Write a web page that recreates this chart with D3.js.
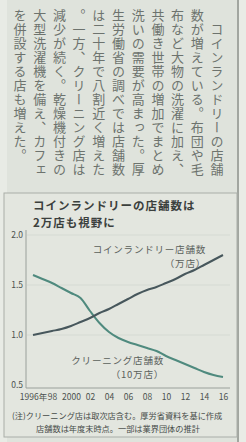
<!DOCTYPE html>
<html>
<head>
<meta charset="utf-8">
<title>コインランドリー</title>
<style>
body { margin: 0; background: #dfe3dc; }
text { font-family: "Noto Sans CJK JP", sans-serif; }
.article text { font-size: 13px; fill: #6d736e; writing-mode: vertical-rl; letter-spacing: 1px; }
.title { font-size: 11.5px; font-weight: bold; fill: #3b403d; letter-spacing: 1px; }
.axis text { font-size: 8.5px; fill: #4c524e; }
.axis path, .axis line { stroke: #9aa09b; }
.grid line { stroke: #cfd4cd; stroke-width: 0.6; }
.lbl { font-size: 9.5px; fill: #5a605b; letter-spacing: 0.8px; }
.note { font-size: 8.2px; fill: #464b48; }
</style>
</head>
<body>
<script src="https://cdn.jsdelivr.net/npm/d3@7"></script>
<div id="chart"></div>
<script>
var years = [1996, 1997, 1998, 1999, 2000, 2001, 2002, 2003, 2004, 2005, 2006,
             2007, 2008, 2009, 2010, 2011, 2012, 2013, 2014, 2015, 2016];
var coinStores = [1.00, 1.02, 1.04, 1.06, 1.09, 1.13, 1.17, 1.22, 1.26, 1.31, 1.36,
                  1.41, 1.45, 1.48, 1.52, 1.56, 1.61, 1.65, 1.70, 1.75, 1.80];
var cleaningStores = [1.60, 1.56, 1.52, 1.47, 1.42, 1.37, 1.24, 1.12, 1.03, 0.97, 0.93,
                      0.90, 0.87, 0.84, 0.79, 0.75, 0.71, 0.67, 0.63, 0.60, 0.58];
var yTicks = [0.5, 1.0, 1.5, 2.0];
var xTicks = [1996, 1998, 2000, 2002, 2004, 2006, 2008, 2010, 2012, 2014, 2016];
var xTickLabels = ["1996年", "98", "2000", "02", "04", "06", "08", "10", "12", "14", "16"];
var titleLines = ["コインランドリーの店舗数は", "2万店も視野に"];
var article = "　コインランドリーの店舗数が増えている。布団や毛布など大物の洗濯に加え、共働き世帯の増加でまとめ洗いの需要が高まった。厚生労働省の調べでは店舗数は二十年で八割近く増えた。一方、クリーニング店は減少が続く。乾燥機付きの大型洗濯機を備え、カフェを併設する店も増えた。";

(function() {
    var W = 246, H = 442;
    var svg = d3.select("#chart").append("svg")
        .attr("width", W)
        .attr("height", H);

    // paper edges
    svg.append("rect").attr("x", 0).attr("y", 0).attr("width", 7).attr("height", H).attr("fill", "#e8ebe5");
    svg.append("line").attr("x1", 238).attr("x2", 238).attr("y1", 0).attr("y2", H)
        .attr("stroke", "#8e928d").attr("stroke-width", 1.5);
    svg.append("rect").attr("x", 239).attr("y", 0).attr("width", 7).attr("height", H).attr("fill", "#e9ece6");

    // article (vertical text, right to left)
    var perCol = 12;
    var cols = [];
    for (var i = 0; i < article.length; i += perCol) cols.push(article.slice(i, i + perCol));
    svg.append("g").attr("class", "article")
        .selectAll("text")
        .data(cols)
        .enter().append("text")
        .attr("x", function(d, i) { return 217 - i * 19.7; })
        .attr("y", 9)
        .text(function(d) { return d; });

    // chart panel
    svg.append("rect")
        .attr("x", 4).attr("y", 193).attr("width", 233).attr("height", 244)
        .attr("fill", "#e3e6df").attr("stroke", "#a9aea8").attr("stroke-width", 1);

    svg.append("g").selectAll("text")
        .data(titleLines)
        .enter().append("text")
        .attr("class", "title")
        .attr("x", 33)
        .attr("y", function(d, i) { return 210 + i * 17; })
        .text(function(d) { return d; });

    var x = d3.scaleLinear().domain([1996, 2016]).range([33, 223]);
    var y = d3.scaleLinear().domain([0.5, 2.0]).range([385, 235]);

    svg.append("g").attr("class", "grid")
        .selectAll("line")
        .data(yTicks.slice(1))
        .enter().append("line")
        .attr("x1", 27).attr("x2", 230)
        .attr("y1", function(d) { return y(d); })
        .attr("y2", function(d) { return y(d); });

    svg.append("g").attr("class", "axis")
        .attr("transform", "translate(26,0)")
        .call(d3.axisLeft(y).tickValues(yTicks).tickFormat(d3.format(".1f")).tickSize(0).tickPadding(3))
        .call(function(g) { g.select(".domain").attr("d", "M0,230V388"); });

    svg.append("g").attr("class", "axis")
        .attr("transform", "translate(0,388)")
        .call(d3.axisBottom(x).tickValues(xTicks)
            .tickFormat(function(d, i) { return xTickLabels[i]; })
            .tickSize(0).tickPadding(6))
        .call(function(g) { g.select(".domain").attr("d", "M26,0H230"); });

    var line = d3.line()
        .x(function(d) { return x(d[0]); })
        .y(function(d) { return y(d[1]); })
        .curve(d3.curveMonotoneX);

    svg.append("path")
        .datum(d3.zip(years, cleaningStores))
        .attr("fill", "none").attr("stroke", "#4f8a7e").attr("stroke-width", 2)
        .attr("d", line);
    svg.append("path")
        .datum(d3.zip(years, coinStores))
        .attr("fill", "none").attr("stroke", "#47575c").attr("stroke-width", 2)
        .attr("d", line);

    // series labels
    svg.append("text").attr("class", "lbl").attr("x", 206).attr("y", 253)
        .attr("text-anchor", "end").text("コインランドリー店舗数");
    svg.append("text").attr("class", "lbl").attr("x", 206).attr("y", 267)
        .attr("text-anchor", "end").text("（万店）");
    svg.append("text").attr("class", "lbl").attr("x", 164).attr("y", 364)
        .attr("text-anchor", "end").text("クリーニング店舗数");
    svg.append("text").attr("class", "lbl").attr("x", 164).attr("y", 378)
        .attr("text-anchor", "end").text("（10万店）");

    // notes
    svg.append("text").attr("class", "note").attr("x", 12).attr("y", 419)
        .text("(注)クリーニング店は取次店含む。厚労省資料を基に作成");
    svg.append("text").attr("class", "note").attr("x", 118).attr("y", 432)
        .attr("text-anchor", "middle")
        .text("店舗数は年度末時点。一部は業界団体の推計");
})();
</script>
</body>
</html>
